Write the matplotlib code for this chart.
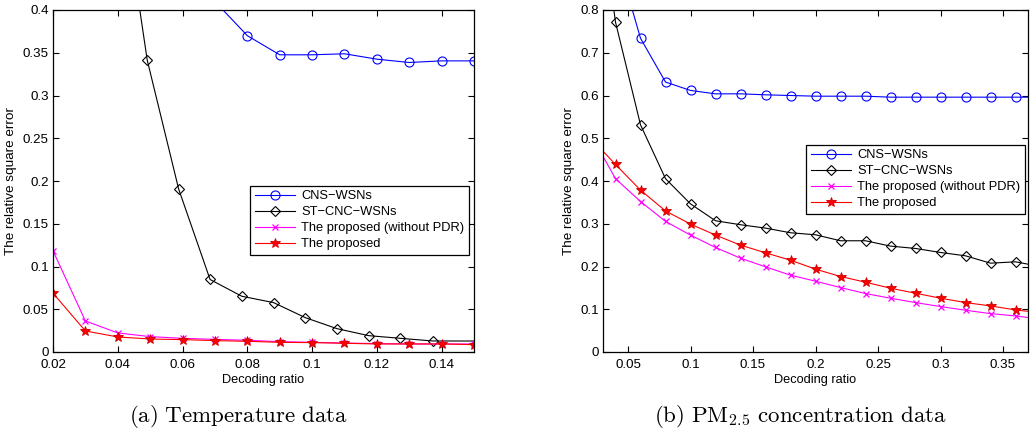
import numpy as np
import matplotlib
matplotlib.use("Agg")
import matplotlib.pyplot as plt
from matplotlib.ticker import FuncFormatter

plt.rcParams['font.family'] = ['Liberation Sans', 'DejaVu Sans']
plt.rcParams['mathtext.fontset'] = 'cm'

# ---------------- data: (a) temperature ----------------
a_x = [0.02, 0.03, 0.04, 0.05, 0.06, 0.07, 0.08, 0.09, 0.10, 0.11, 0.12, 0.13, 0.14, 0.15]
a_cns = [0.62, 0.58, 0.54, 0.50, 0.46, 0.41, 0.370, 0.3476, 0.3476, 0.3488, 0.3425, 0.3386, 0.3405, 0.3405]
a_st_x = [0.0393, 0.0491, 0.0588, 0.0685, 0.0783, 0.0881, 0.0979, 0.1077, 0.1175, 0.1273, 0.1372, 0.1568]
a_st = [0.592, 0.3413, 0.1906, 0.0848, 0.0652, 0.0578, 0.0402, 0.0273, 0.0191, 0.0160, 0.0129, 0.0128]
a_nopdr = [0.1184, 0.0363, 0.0223, 0.0180, 0.0160, 0.0148, 0.0137, 0.0121, 0.0113, 0.0105, 0.0098, 0.0094, 0.0094, 0.0094]
a_prop = [0.0688, 0.0246, 0.0176, 0.0152, 0.0145, 0.0133, 0.0125, 0.0113, 0.0110, 0.0102, 0.0094, 0.0094, 0.0094, 0.0086]

# ---------------- data: (b) PM2.5 ----------------
b_x = [0.02, 0.04, 0.06, 0.08, 0.10, 0.12, 0.14, 0.16, 0.18, 0.20, 0.22, 0.24,
       0.26, 0.28, 0.30, 0.32, 0.34, 0.36, 0.38]
b_cns = [1.15, 0.937, 0.7339, 0.6315, 0.6118, 0.6039, 0.6039, 0.6016, 0.6000, 0.5984, 0.5984, 0.5984,
         0.5961, 0.5961, 0.5961, 0.5961, 0.5961, 0.5961, 0.5961]
b_st = [1.20, 0.7717, 0.5315, 0.4055, 0.3465, 0.3070, 0.2977, 0.2898, 0.2789, 0.2742, 0.2602, 0.2602,
        0.2477, 0.2422, 0.2328, 0.2250, 0.2078, 0.2109, 0.2000]
b_nopdr = [0.510, 0.4055, 0.3520, 0.3055, 0.2734, 0.2445, 0.2195, 0.1992, 0.1797, 0.1656, 0.1508, 0.1367,
           0.1258, 0.1156, 0.1063, 0.0977, 0.0898, 0.0844, 0.0770]
b_prop = [0.501, 0.4386, 0.3787, 0.3300, 0.2992, 0.2734, 0.2500, 0.2320, 0.2148, 0.1938, 0.1766, 0.1633,
          0.1492, 0.1375, 0.1258, 0.1156, 0.1078, 0.0984, 0.0920]

labels = ['CNS\u2212WSNs', 'ST\u2212CNC\u2212WSNs', 'The proposed (without PDR)', 'The proposed']
a_ticks_x = [0.02, 0.04, 0.06, 0.08, 0.10, 0.12, 0.14]
a_ticks_y = [0, 0.05, 0.1, 0.15, 0.2, 0.25, 0.3, 0.35, 0.4]
b_ticks_x = [0.05, 0.10, 0.15, 0.20, 0.25, 0.30, 0.35]
b_ticks_y = [0, 0.1, 0.2, 0.3, 0.4, 0.5, 0.6, 0.7, 0.8]

fig = plt.figure(figsize=(10.31, 4.30), dpi=100)
axA = fig.add_axes([53/1031, 1-352/430, (474-53)/1031, 342/430])
axB = fig.add_axes([603/1031, 1-352/430, (1028-603)/1031, 342/430])

lw = 0.8
tfs = 9.6
xlfs = 9.2
ylfs = 9.7
legfs = 9.3
gfmt = FuncFormatter(lambda v, p: ('%g' % round(v, 4)))

def style(ax, xt, yt, xlim, ylim):
    ax.set_xlim(*xlim)
    ax.set_ylim(*ylim)
    ax.set_xticks(xt)
    ax.set_yticks(yt)
    ax.xaxis.set_major_formatter(gfmt)
    ax.yaxis.set_major_formatter(gfmt)
    ax.tick_params(direction='in', top=True, right=True, length=4, width=0.8,
                   labelsize=tfs)
    ax.tick_params(axis='x', pad=5)
    ax.tick_params(axis='y', pad=3)
    for s in ax.spines.values():
        s.set_linewidth(0.9)
    ax.set_xlabel('Decoding ratio', fontsize=xlfs, labelpad=2)
    ax.set_ylabel('The relative square error', fontsize=ylfs, labelpad=4)

def plot_set(ax, x, cns, stx, st, nopdr, prop):
    ax.plot(x, cns, color='blue', marker='o', ms=6.5, mfc='none', mew=0.8, lw=lw, label=labels[0])
    ax.plot(stx, st, color='black', marker='D', ms=5, mfc='none', mew=0.8, lw=lw, label=labels[1])
    ax.plot(x, nopdr, color='magenta', marker='x', ms=4.5, mew=0.9, lw=lw, label=labels[2])
    ax.plot(x, prop, color='red', marker='*', ms=7.5, mfc='red', mec='#d00000', mew=0.6, lw=lw,
            label=labels[3])

plot_set(axA, a_x, a_cns, a_st_x, a_st, a_nopdr, a_prop)
style(axA, a_ticks_x, a_ticks_y, (0.02, 0.15), (0, 0.4))
plot_set(axB, b_x, b_cns, b_x, b_st, b_nopdr, b_prop)
style(axB, b_ticks_x, b_ticks_y, (0.03, 0.37), (0, 0.8))

for ax, anchor in [(axA, (0.988, 0.486)), (axB, (0.993, 0.606))]:
    leg = ax.legend(loc='upper right', bbox_to_anchor=anchor, fontsize=legfs, frameon=True,
                    fancybox=False, edgecolor='black', framealpha=1, handlelength=3.1,
                    handletextpad=0.5, labelspacing=0.3, borderpad=0.35, borderaxespad=0)
    leg.get_frame().set_linewidth(0.9)

fig.text(238/1031, 1-416/430, r'$\mathrm{(a)\ Temperature\ data}$', fontsize=16.5,
         ha='center', va='center')
fig.text(800/1031, 1-416/430, r'$\mathrm{(b)\ PM_{2.5}\ concentration\ data}$', fontsize=16.5,
         ha='center', va='center')

fig.savefig('out.png', dpi=100)
